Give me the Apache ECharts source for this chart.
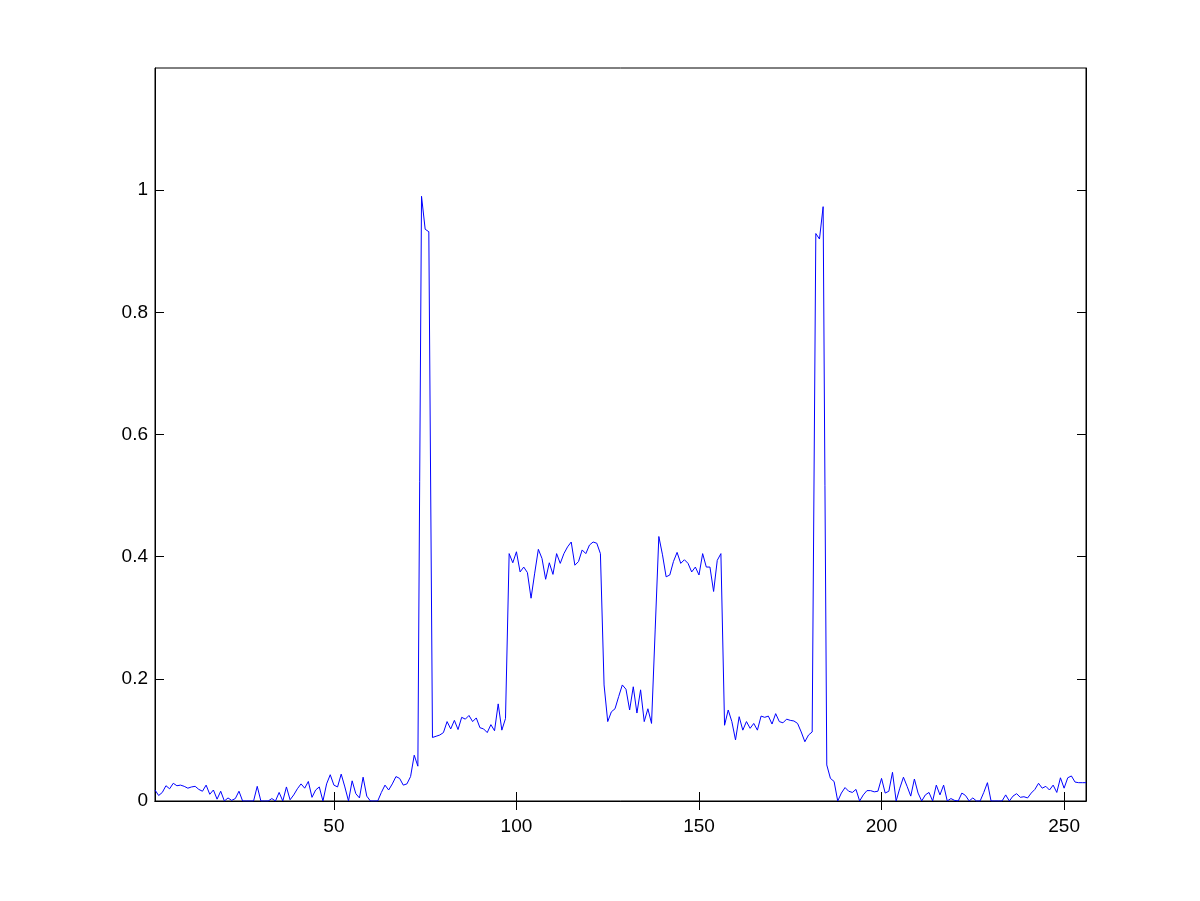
<!DOCTYPE html>
<html>
<head>
<meta charset="utf-8">
<script src="https://cdn.jsdelivr.net/npm/echarts@6/dist/echarts.min.js"></script>
<style>
html,body{margin:0;padding:0;background:#fff;}
#chart{width:1200px;height:901px;}
</style>
</head>
<body>
<div id="chart"></div>
<script>
// Signal values, sample index 1..256
const signal = [
0.018,0.009,0.014,0.025,0.020,0.029,0.025,0.026,0.024,0.021,
0.023,0.024,0.019,0.016,0.026,0.011,0.018,0.003,0.016,0,
0.005,0.001,0.004,0.016,0,0,0,0,0.024,0,
0,0,0.004,0,0.014,0,0.023,0.002,0.010,0.020,
0.028,0.021,0.032,0.006,0.018,0.023,0,0.028,0.043,0.026,
0.023,0.044,0.023,0,0.033,0.012,0.005,0.039,0.008,0,
0,0,0.014,0.026,0.018,0.028,0.040,0.037,0.026,0.028,
0.040,0.075,0.057,0.990,0.936,0.932,0.104,0.106,0.108,0.112,
0.130,0.118,0.132,0.117,0.137,0.134,0.140,0.130,0.136,0.120,
0.118,0.112,0.125,0.115,0.159,0.116,0.135,0.405,0.390,0.408,
0.375,0.383,0.374,0.332,0.373,0.412,0.397,0.363,0.390,0.371,
0.405,0.389,0.405,0.416,0.424,0.386,0.392,0.411,0.405,0.419,
0.424,0.422,0.405,0.190,0.130,0.146,0.151,0.171,0.190,0.183,
0.149,0.187,0.144,0.182,0.130,0.151,0.127,0.280,0.433,0.403,
0.367,0.370,0.392,0.407,0.389,0.395,0.389,0.375,0.383,0.370,
0.405,0.383,0.383,0.343,0.394,0.405,0.124,0.149,0.130,0.100,
0.138,0.116,0.130,0.119,0.127,0.116,0.139,0.137,0.139,0.126,
0.143,0.130,0.128,0.134,0.132,0.131,0.127,0.113,0.097,0.108,
0.113,0.929,0.920,0.973,0.059,0.037,0.032,0,0.013,0.022,
0.016,0.014,0.019,0,0.010,0.017,0.017,0.015,0.016,0.037,
0.013,0.016,0.047,0,0.021,0.039,0.024,0.008,0.036,0.013,
0,0.010,0.014,0,0.026,0.010,0.026,0,0.004,0.001,
0,0.013,0.009,0,0.005,0,0,0.014,0.030,0,
0,0,0,0.010,0,0.008,0.012,0.006,0.007,0.005,
0.013,0.019,0.029,0.021,0.024,0.018,0.026,0.014,0.038,0.021,
0.038,0.041,0.031,0.030,0.030,0.030
];
const xTicks = [50, 100, 150, 200, 250];
const yTicks = [0, 0.2, 0.4, 0.6, 0.8, 1];
const xRange = [1, 256];
const yRange = [0, 1.2];

const seriesData = signal.map((v, i) => [i + 1, v]);

const font = 'Liberation Sans, Arial, Helvetica, sans-serif';
const lineStyle = { color: '#000', width: 1 };
const tickStyle = { show: true, inside: true, length: 9, lineStyle: lineStyle };

const chart = echarts.init(document.getElementById('chart'), null, { renderer: 'canvas' });
chart.setOption({
  animation: false,
  backgroundColor: '#fff',
  grid: { left: 155, right: 114, top: 68, bottom: 100, show: true, borderColor: '#000', borderWidth: 1, backgroundColor: 'transparent' },
  xAxis: [
    {
      type: 'value', min: xRange[0], max: xRange[1], position: 'bottom',
      axisLine: { show: true, lineStyle: lineStyle },
      axisTick: Object.assign({}, tickStyle, { customValues: xTicks }),
      axisLabel: { customValues: xTicks, color: '#000', fontSize: 19, fontFamily: font, margin: 16 },
      splitLine: { show: false }
    },
    {
      type: 'value', min: xRange[0], max: xRange[1], position: 'top',
      axisLine: { show: true, lineStyle: lineStyle },
      axisTick: Object.assign({}, tickStyle, { customValues: xTicks }),
      axisLabel: { show: false },
      splitLine: { show: false }
    }
  ],
  yAxis: [
    {
      type: 'value', min: yRange[0], max: yRange[1], position: 'left',
      axisLine: { show: true, lineStyle: lineStyle },
      axisTick: Object.assign({}, tickStyle, { customValues: yTicks }),
      axisLabel: { customValues: yTicks, color: '#000', fontSize: 19, fontFamily: font, margin: 7,
        formatter: v => String(Math.round(v * 10) / 10) },
      splitLine: { show: false }
    },
    {
      type: 'value', min: yRange[0], max: yRange[1], position: 'right',
      axisLine: { show: true, lineStyle: lineStyle },
      axisTick: Object.assign({}, tickStyle, { customValues: yTicks }),
      axisLabel: { show: false },
      splitLine: { show: false }
    }
  ],
  series: [{
    type: 'line',
    xAxisIndex: 0, yAxisIndex: 0,
    data: seriesData,
    showSymbol: false,
    lineStyle: { color: '#0000ff', width: 1 },
    clip: true
  }]
});
</script>
</body>
</html>
